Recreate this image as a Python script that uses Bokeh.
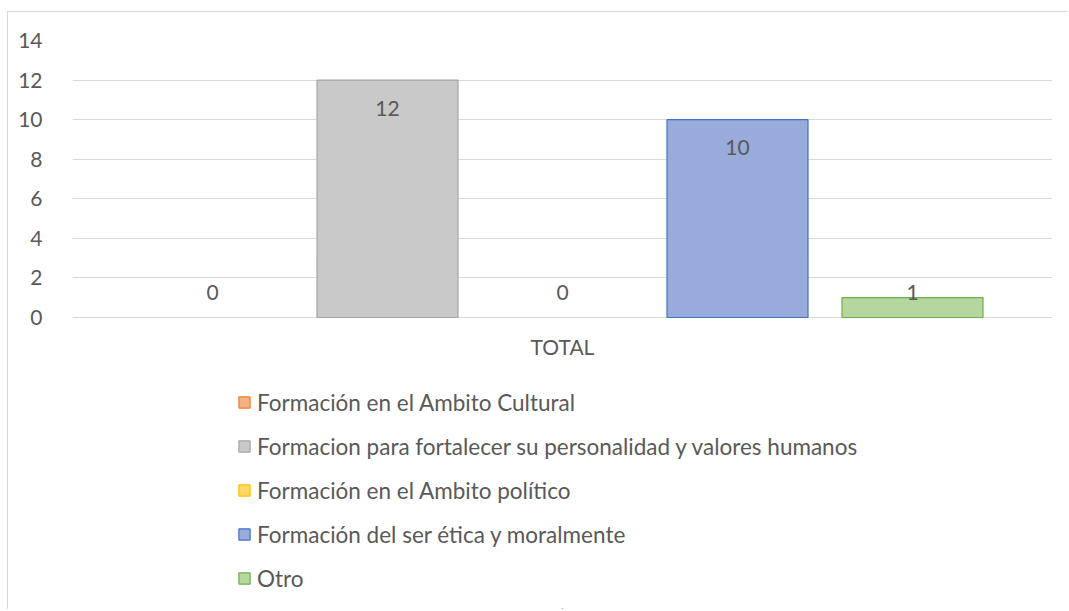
from bokeh.plotting import figure
from bokeh.models import FactorRange, ColumnDataSource, Legend, LegendItem, FixedTicker
from bokeh.transform import dodge
from bokeh.core.properties import value
from bokeh.embed import file_html
from bokeh.resources import INLINE

category = ["TOTAL"]
series = [
    "Formación en el Ambito Cultural",
    "Formacion para fortalecer su personalidad y valores humanos",
    "Formación en el Ambito político",
    "Formación del ser ética y moralmente",
    "Otro",
]
values = [0, 12, 0, 10, 1]
fills = ["#f4b183", "#c9c9c9", "#ffd966", "#98abdb", "#b4d7a0"]
lines = ["#ed7d31", "#a5a5a5", "#ffc000", "#4472c4", "#70ad47"]
y_ticks = [0, 2, 4, 6, 8, 10, 12, 14]

FONT = "Lato"
TXT = "#595959"

# layout (pixels)
W, H = 1060, 598
TOP, BOTTOM = 28, 2
AXIS_PX = 277                      # height of the 0..14 value area
frame_h = H - TOP - BOTTOM
y_max = max(y_ticks)
y_min = -(frame_h - AXIS_PX) * y_max / AXIS_PX

p = figure(
    x_range=FactorRange(factors=category, range_padding=0),
    y_range=(y_min, y_max),
    width=W, height=H,
    output_backend="svg", toolbar_location=None,
    min_border_left=64, min_border_right=16, min_border_top=TOP, min_border_bottom=BOTTOM,
)
p.styles = {"margin-left": "7px", "margin-top": "11px",
            "border-left": "1px solid #d9d9d9", "border-top": "1px solid #d9d9d9"}
p.outline_line_color = None
p.background_fill_color = "white"
p.border_fill_color = "white"

p.xgrid.grid_line_color = None
p.ygrid.ticker = FixedTicker(ticks=y_ticks)
p.ygrid.grid_line_color = "#d9d9d9"
p.ygrid.grid_line_width = 1
p.yaxis.ticker = FixedTicker(ticks=y_ticks)
p.yaxis.axis_line_color = None
p.yaxis.major_tick_line_color = None
p.yaxis.minor_tick_line_color = None
p.yaxis.major_label_standoff = 24
p.yaxis.major_label_text_font = FONT
p.yaxis.major_label_text_font_size = "21px"
p.yaxis.major_label_text_color = TXT
p.xaxis.visible = False

# category label under the baseline
p.text(x=category, y=[0], text=category, text_font=value(FONT), text_font_size="21px",
       text_color=TXT, text_align="center", text_baseline="middle", y_offset=29)

n = len(series)
step = 175 / 980
bar_w = 141 / 980
items = []
far = y_min * 2
for i, (name, v, fc, lc) in enumerate(zip(series, values, fills, lines)):
    off = (i - (n - 1) / 2) * step
    src = ColumnDataSource(dict(x=category, top=[v], lbl=[str(v)], ly=[v if v >= 2 else 0]))
    p.vbar(x=dodge("x", off, range=p.x_range), top="top", width=bar_w, source=src,
           fill_color=fc, line_color=lc if v > 0 else None, line_width=1.2)
    # degenerate legend proxy (zero size, off-screen) so the swatch keeps its border
    proxy = p.vbar(x=category, top=[far], bottom=[far], width=0,
                   fill_color=fc, line_color=lc, line_width=1.2)
    items.append(LegendItem(label=name, renderers=[proxy]))
    p.text(x=dodge("x", off, range=p.x_range), y="ly", text="lbl", source=src,
           text_font=value(FONT), text_font_size="21px", text_color=TXT,
           text_align="center", text_baseline="middle",
           y_offset=28 if v >= 2 else -25)

legend = Legend(items=items, location=(165, 16), orientation="vertical",
                label_text_font=FONT, label_text_font_size="22.5px", label_text_color=TXT,
                label_text_baseline="middle",
                glyph_width=14, glyph_height=14, label_height=28, label_standoff=6,
                spacing=16, padding=0, margin=0, border_line_color=None,
                background_fill_alpha=0)
p.add_layout(legend, "center")

open("out.html", "w").write(file_html(p, INLINE))
